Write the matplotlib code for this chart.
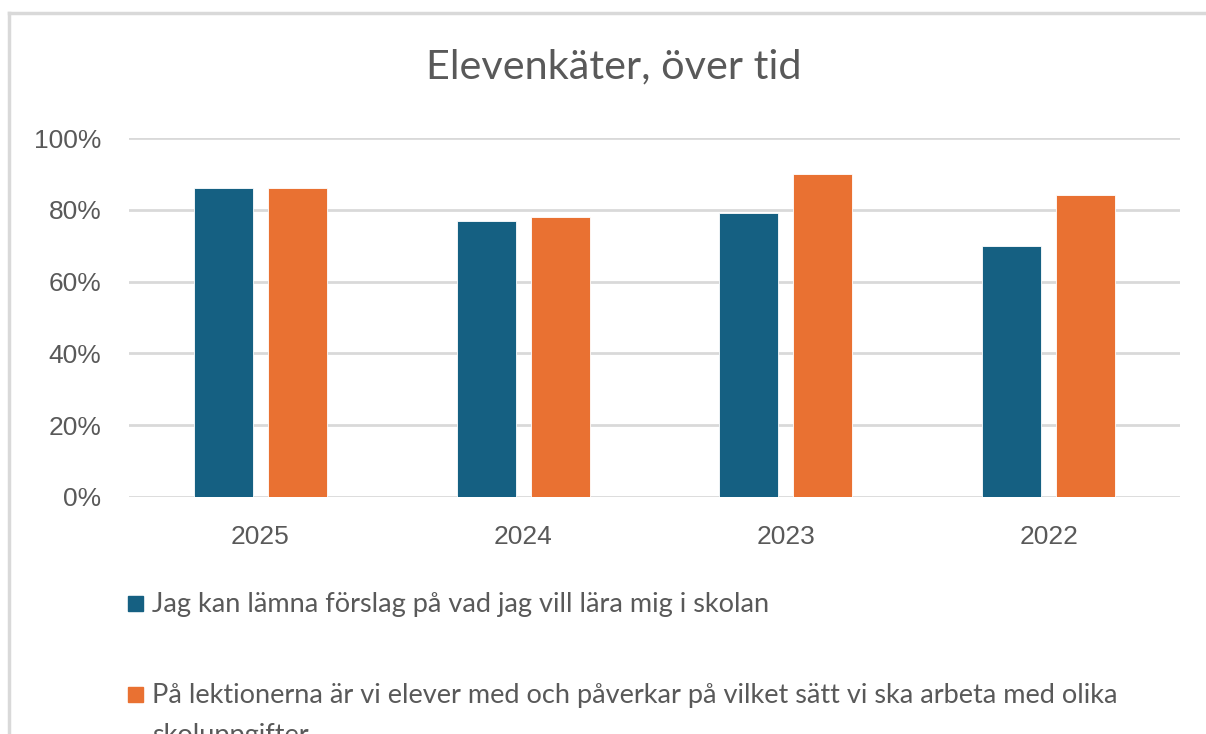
import matplotlib.pyplot as plt
import numpy as np
from matplotlib.patches import Rectangle

# data
years = ["2025", "2024", "2023", "2022"]
series_labels = [
    "Jag kan lämna förslag på vad jag vill lära mig i skolan",
    "På lektionerna är vi elever med och påverkar på vilket sätt vi ska arbeta med olika\nskoluppgifter",
]
series_values = [
    [0.86, 0.77, 0.79, 0.70],
    [0.86, 0.78, 0.90, 0.84],
]
series_colors = ["#156082", "#E97132"]
yticks = [0.0, 0.2, 0.4, 0.6, 0.8, 1.0]
ytick_labels = ["0%", "20%", "40%", "60%", "80%", "100%"]

W, H = 1206, 734
fig = plt.figure(figsize=(W / 100, H / 100), dpi=100)

# chart frame (only left and top edge visible in the crop)
fig.add_artist(plt.Line2D([9 / W, 9 / W], [0, 1 - 13 / H], color="#d9d9d9", lw=2.5,
                          transform=fig.transFigure))
fig.add_artist(plt.Line2D([9 / W, 1], [1 - 13 / H, 1 - 13 / H], color="#d9d9d9", lw=2.5,
                          transform=fig.transFigure))

ax = fig.add_axes([129 / W, 237 / H, (1180 - 129) / W, (497 - 138) / H])

x = np.arange(len(years))
bar_w = 0.225
gap = 0.057
offsets = [-(bar_w + gap) / 2, (bar_w + gap) / 2]
for vals, col, off in zip(series_values, series_colors, offsets):
    ax.bar(x + off, vals, width=bar_w, color=col, edgecolor="white", linewidth=0.6, zorder=3)

ax.set_xlim(-0.5, len(years) - 0.5)
ax.set_ylim(0, 1.0)
ax.set_yticks(yticks)
ax.set_yticklabels(ytick_labels)
ax.set_xticks(x)
ax.set_xticklabels(years)
for s in ax.spines.values():
    s.set_visible(False)
ax.yaxis.grid(True, color="#d9d9d9", linewidth=2, zorder=0)
ax.set_axisbelow(True)
ax.tick_params(length=0, labelsize=19, labelcolor="#595959")
ax.tick_params(axis="y", pad=20)
ax.tick_params(axis="x", pad=20)
for lab in ax.get_xticklabels() + ax.get_yticklabels():
    lab.set_fontfamily("Liberation Sans")
ax.set_ylim(0, 1.0)

fig.text(614 / W, 1 - 67 / H, "Elevenkäter, över tid", ha="center", va="center",
         fontsize=29.8, color="#595959", family="Lato")

# legend drawn by hand so the marker sits on the first line
legend_baseline = [612, 703]
line_step = 40
for lab, col, yy in zip(series_labels, series_colors, legend_baseline):
    fig.add_artist(Rectangle((128 / W, 1 - (yy - 1) / H), 15 / W, 15 / H, color=col,
                             transform=fig.transFigure))
    for i, line in enumerate(lab.split("\n")):
        fig.text(152 / W, 1 - (yy + i * line_step) / H, line, ha="left", va="baseline",
                 fontsize=19.5, color="#595959", family="Lato")

fig.savefig("out.png", dpi=100)
